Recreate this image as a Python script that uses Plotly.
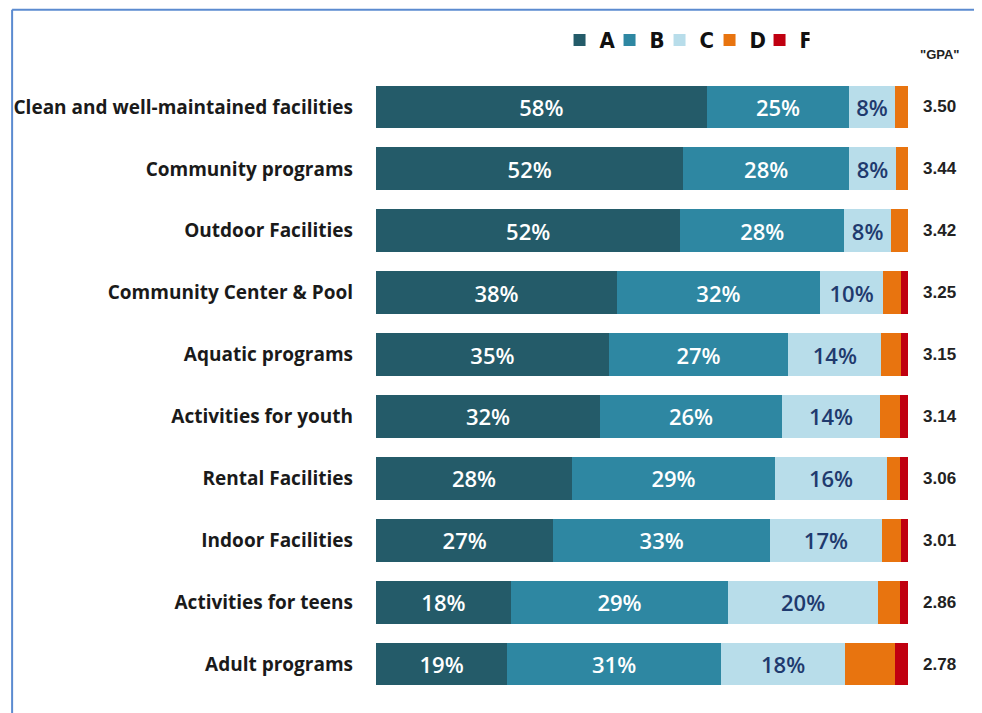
import plotly.graph_objects as go

categories = ["Clean and well-maintained facilities", "Community programs", "Outdoor Facilities",
              "Community Center & Pool", "Aquatic programs", "Activities for youth",
              "Rental Facilities", "Indoor Facilities", "Activities for teens", "Adult programs"]

# percent of respondents giving each grade (D and F)
grade_a = [58, 52, 52, 38, 35, 32, 28, 27, 18, 19]
grade_b = [25, 28, 28, 32, 27, 26, 29, 33, 29, 31]
grade_c = [8, 8, 8, 10, 14, 14, 16, 17, 20, 18]
grade_d = [2.3, 2.0, 2.9, 2.8, 3.0, 2.9, 1.9, 2.9, 2.9, 7.2]
grade_f = [0, 0, 0, 1.1, 1.0, 1.1, 1.1, 1.1, 1.1, 1.9]
gpa = ["3.50", "3.44", "3.42", "3.25", "3.15", "3.14", "3.06", "3.01", "2.86", "2.78"]

series = [
    ("A", grade_a, "#245B69", "white"),
    ("B", grade_b, "#2E87A2", "white"),
    ("C", grade_c, "#B8DDEA", "#1F3A6E"),
    ("D", grade_d, "#E8740F", None),
    ("F", grade_f, "#C00010", None),
]

fig = go.Figure()
for name, vals, color, txtcolor in series:
    fig.add_trace(go.Bar(
        y=categories, x=vals, name=name, orientation="h",
        marker=dict(color=color, line=dict(width=0)),
        text=[f"{v}%" for v in vals] if txtcolor else None,
        textposition="inside", insidetextanchor="middle",
        textfont=dict(family="Open Sans", size=22, color=txtcolor, weight=600),
        hoverinfo="skip",
    ))

for cat, g in zip(categories, gpa):
    fig.add_annotation(x=1.06, y=cat, xref="paper", yref="y", xanchor="center", text=g,
                       showarrow=False,
                       font=dict(family="Liberation Sans", size=17, color="#222", weight="bold"))

fig.add_annotation(x=1.06, y=1.034, xref="paper", yref="paper", xanchor="center",
                   yanchor="middle", text='"GPA"', showarrow=False,
                   font=dict(family="Liberation Sans", size=13, color="#222", weight="bold"))

# blue frame lines
fig.add_shape(type="line", xref="paper", yref="paper", x0=-0.684, x1=1.2, y0=1.107, y1=1.107,
              line=dict(color="#5B8BD0", width=2))
fig.add_shape(type="line", xref="paper", yref="paper", x0=-0.684, x1=-0.684, y0=1.107, y1=-0.1,
              line=dict(color="#5B8BD0", width=2))

# page body adds an 8px offset, margins compensate for it
fig.update_layout(
    width=982, height=713,
    barmode="stack", barnorm="percent", bargap=0.31,
    margin=dict(l=368, r=82, t=68, b=26, autoexpand=False),
    plot_bgcolor="white", paper_bgcolor="white",
    showlegend=True,
    legend=dict(orientation="h", x=0.345, y=1.058, xanchor="left", yanchor="middle",
                traceorder="normal",
                font=dict(family="DejaVu Sans Condensed", size=22, color="#111", weight="bold"),
                entrywidth=5, entrywidthmode="pixels", itemwidth=30,
                bgcolor="rgba(0,0,0,0)"),
    xaxis=dict(visible=False, range=[0, 100], fixedrange=True),
    yaxis=dict(autorange="reversed", showgrid=False, ticks="", ticklabelstandoff=22,
               tickfont=dict(family="Open Sans", size=19, color="#1a1a1a", weight="bold")),
)

fig.write_html("out.html")
